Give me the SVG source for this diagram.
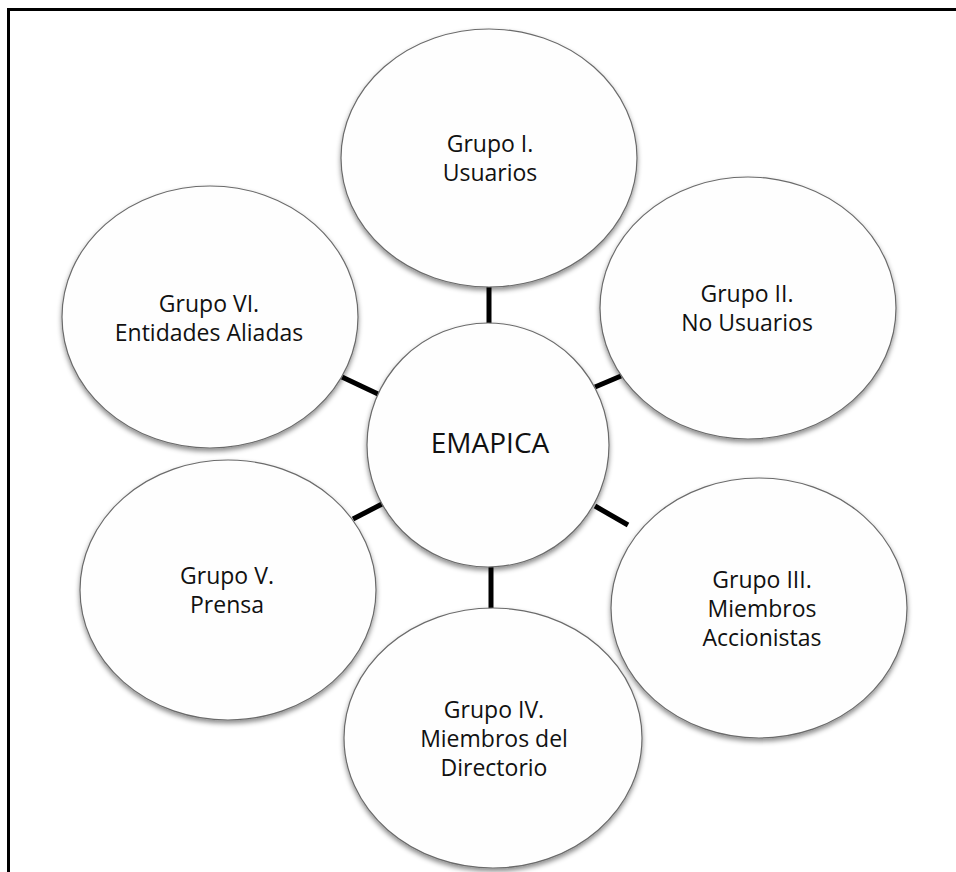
<svg xmlns="http://www.w3.org/2000/svg" width="956" height="872" viewBox="0 0 956 872">
<style>
.node ellipse{fill:#fefefe;stroke:#6b6b6b;stroke-width:1.2;filter:url(#sh)}
.node text{font-family:"Open Sans","Noto Sans",sans-serif;font-size:23px;fill:#111;text-anchor:middle}
.conn line{stroke:#000;stroke-width:5}
</style>
<defs>
<filter id="sh" x="-10%" y="-10%" width="120%" height="125%">
<feDropShadow dx="0" dy="3" stdDeviation="2.5" flood-color="#000" flood-opacity="0.45"/>
</filter>
</defs>
<rect x="0" y="0" width="956" height="872" fill="#fff"/>
<rect x="8.5" y="9.5" width="1000" height="1000" fill="none" stroke="#000" stroke-width="3"/>
<g id="connectors" class="conn">
<line x1="489" y1="285" x2="489" y2="325"/>
<line x1="595" y1="387" x2="621" y2="376"/>
<line x1="342" y1="377" x2="378" y2="394"/>
<line x1="353" y1="519" x2="384" y2="503"/>
<line x1="595" y1="506" x2="628" y2="525"/>
<line x1="491" y1="565" x2="491" y2="609"/>
</g>
<g id="g1" class="node">
<ellipse cx="489" cy="158" rx="148" ry="129"/>
<text x="490" y="152">Grupo I.</text>
<text x="490" y="181">Usuarios</text>
</g>
<g id="g2" class="node">
<ellipse cx="748" cy="308" rx="148" ry="131"/>
<text x="747" y="302">Grupo II.</text>
<text x="747" y="331">No Usuarios</text>
</g>
<g id="g3" class="node">
<ellipse cx="759" cy="608" rx="148" ry="130"/>
<text x="762" y="588">Grupo III.</text>
<text x="762" y="617">Miembros</text>
<text x="762" y="646">Accionistas</text>
</g>
<g id="g4" class="node">
<ellipse cx="493" cy="738" rx="149" ry="130"/>
<text x="494" y="718">Grupo IV.</text>
<text x="494" y="747">Miembros del</text>
<text x="494" y="776">Directorio</text>
</g>
<g id="g5" class="node">
<ellipse cx="228" cy="590" rx="148" ry="130"/>
<text x="227" y="584">Grupo V.</text>
<text x="227" y="613">Prensa</text>
</g>
<g id="g6" class="node">
<ellipse cx="210" cy="317" rx="148" ry="131"/>
<text x="209" y="312">Grupo VI.</text>
<text x="209" y="341">Entidades Aliadas</text>
</g>
<g id="center" class="node">
<ellipse cx="488" cy="445" rx="121" ry="122"/>
<text x="490" y="453" style="font-size:28px">EMAPICA</text>
</g>
</svg>
